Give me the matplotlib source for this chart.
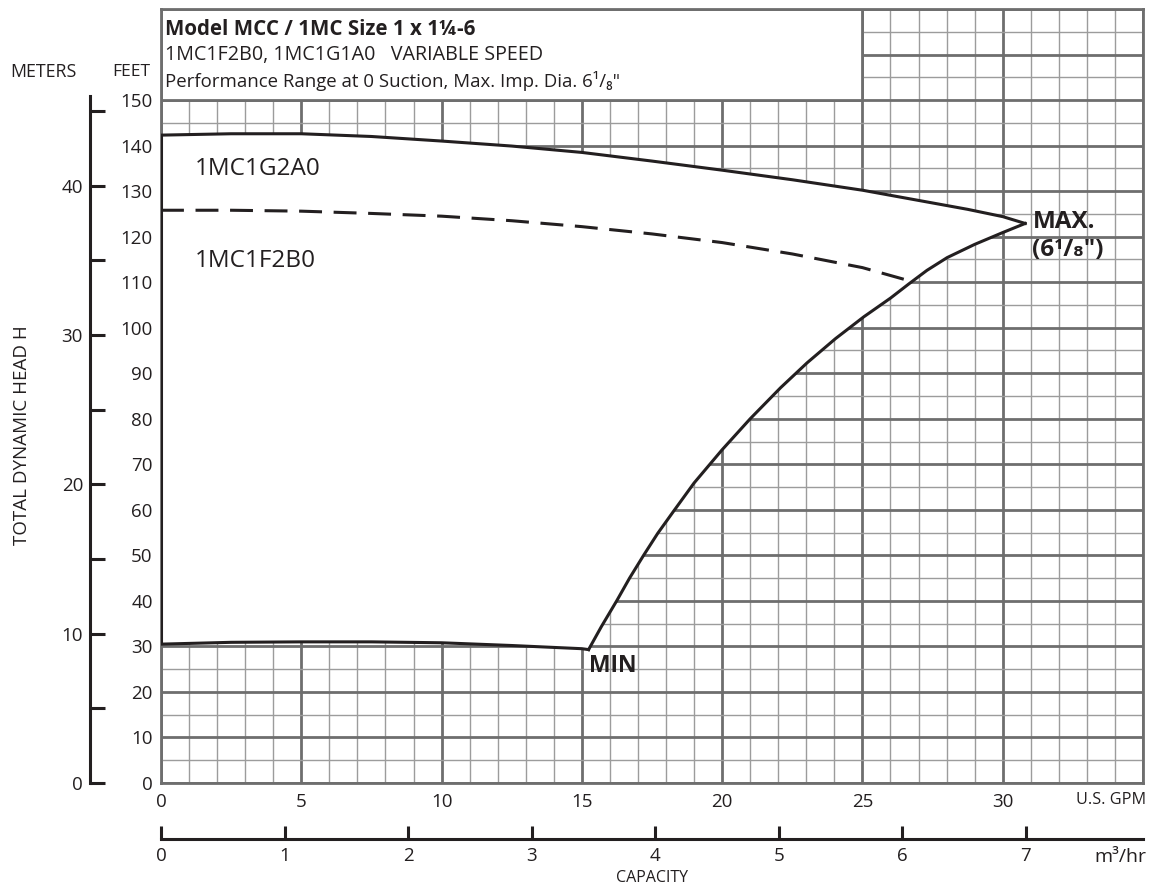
import numpy as np
import matplotlib.pyplot as plt
from matplotlib.patches import Rectangle, Polygon

plt.rcParams['font.family'] = ['Open Sans', 'DejaVu Sans']

INK = '#231f20'
GRID_MAJOR = '#6e6e6e'
GRID_MINOR = '#9c9c9c'

# curves (U.S. GPM, feet)
top_gpm = [0, 2.5, 5, 7.5, 10, 12.5, 15, 17.5, 20, 22.5, 25, 27.5, 28.75, 30, 30.8]
top_ft = [142.3, 142.6, 142.6, 142.0, 141.0, 139.9, 138.5, 136.6, 134.6, 132.5, 130.2, 127.4, 126.0, 124.4, 122.9]

dash_gpm = [0, 2.5, 5, 7.5, 10, 12.5, 15, 17.5, 20, 22.5, 25, 26.5]
dash_ft = [125.8, 125.8, 125.6, 125.1, 124.5, 123.5, 122.2, 120.6, 118.7, 116.2, 113.2, 110.6]

min_gpm = [0, 2.5, 5, 7.5, 10, 12.5, 15, 15.24]
min_ft = [30.5, 30.9, 31.0, 31.0, 30.8, 30.2, 29.5, 29.3]

rise_gpm = [15.24, 15.7, 16.25, 16.7, 17.2, 17.7, 18.27, 19.0, 20.0, 21.0, 22.08, 23.03, 24.04,
            25.05, 26.0, 26.65, 27.3, 28.02, 29.0, 30.0, 30.8]
rise_ft = [29.3, 34.4, 40.1, 45.0, 50.0, 54.8, 59.7, 65.9, 73.2, 80.0, 86.8, 92.3, 97.6,
           102.4, 106.5, 109.6, 112.6, 115.4, 118.3, 120.9, 122.9]

gpm_ticks = [0, 5, 10, 15, 20, 25, 30]
ft_ticks = [0, 10, 20, 30, 40, 50, 60, 70, 80, 90, 100, 110, 120, 130, 140, 150]
m_ticks = [0, 5, 10, 15, 20, 25, 30, 35, 40, 45]
m3h_ticks = [0, 1, 2, 3, 4, 5, 6, 7]

GPM_PER_M3H = 4.403
FT_PER_M = 3.2808

fig = plt.figure(figsize=(11.49, 8.9), dpi=100)
ax = fig.add_axes([0.14012, 0.12022, 0.85466, 0.86966])
ax.set_xlim(0, 35)
ax.set_ylim(0, 170)

# grid
ax.set_axisbelow(True)
ax.set_xticks(np.arange(0, 36, 5))
ax.set_xticks(np.arange(0, 36, 1), minor=True)
ax.set_yticks(np.arange(0, 171, 10))
ax.set_yticks(np.arange(0, 171, 5), minor=True)
ax.grid(which='major', color=GRID_MAJOR, lw=2.0)
ax.grid(which='minor', color=GRID_MINOR, lw=1.0)
ax.set_xticklabels([str(t) if t in gpm_ticks else '' for t in range(0, 36, 5)])
ax.set_yticklabels([str(t) if t in ft_ticks else '' for t in range(0, 171, 10)])
ax.tick_params(which='both', length=0, labelsize=13.5, labelcolor=INK)
ax.tick_params(axis='y', pad=6)
ax.tick_params(axis='x', pad=7)
for s in ax.spines.values():
    s.set_color(GRID_MAJOR)
    s.set_linewidth(2.0)

# title box
ax.add_patch(Rectangle((0, 150), 25, 20, facecolor='white', edgecolor=GRID_MAJOR, lw=2.0, zorder=1))
ax.text(0.14, 164.3, 'Model MCC / 1MC Size 1 x 1¼-6', fontsize=14.8, fontweight='bold', color=INK, va='baseline')
ax.text(0.14, 158.8, '1MC1F2B0, 1MC1G1A0   VARIABLE SPEED', fontsize=14.2, color=INK, va='baseline')
ax.text(0.14, 152.9, 'Performance Range at 0 Suction, Max. Imp. Dia. 6¹/₈"', fontsize=13.4, color=INK, va='baseline')

# white envelope
env_x = top_gpm + rise_gpm[::-1] + min_gpm[::-1]
env_y = top_ft + rise_ft[::-1] + min_ft[::-1]
ax.add_patch(Polygon(np.column_stack([env_x, env_y]), closed=True, facecolor='white', edgecolor='none', zorder=1))

ax.plot(top_gpm, top_ft, color=INK, lw=2.2, zorder=3)
ax.plot(rise_gpm, rise_ft, color=INK, lw=2.2, zorder=3)
ax.plot(min_gpm, min_ft, color=INK, lw=2.2, zorder=3)
ax.plot([0, 0], [min_ft[0], top_ft[0]], color=INK, lw=2.2, zorder=3, solid_capstyle='butt')
ax.plot(dash_gpm, dash_ft, color=INK, lw=2.2, ls=(0, (7.5, 3.8)), zorder=3)

ax.text(1.21, 134.9, '1MC1G2A0', fontsize=17.5, color=INK, va='center')
ax.text(1.21, 114.7, '1MC1F2B0', fontsize=17.5, color=INK, va='center')
ax.text(15.25, 25.7, 'MIN', fontsize=16.5, fontweight='bold', color=INK, va='center')
ax.text(31.08, 123.3, 'MAX.', fontsize=17.5, fontweight='bold', color=INK, va='center')
ax.text(31.04, 117.1, '(6¹/₈")', fontsize=17.5, fontweight='bold', color=INK, va='center')

# meters axis
may = ax.secondary_yaxis(-0.0723, functions=(lambda f: f / FT_PER_M, lambda m: m * FT_PER_M))
may.set_yticks(m_ticks)
may.set_yticklabels([str(t) if t % 10 == 0 else '' for t in m_ticks])
may.tick_params(direction='in', length=11, width=2.2, color=INK, labelsize=13.5, labelcolor=INK, pad=5)
may.spines['left'].set_bounds(0, 46)
may.spines['left'].set_color(INK)
may.spines['left'].set_linewidth(2.2)

# m3/hr axis
max_ = ax.secondary_xaxis(-0.0724, functions=(lambda g: g / GPM_PER_M3H, lambda q: q * GPM_PER_M3H))
max_.set_xticks(m3h_ticks)
max_.tick_params(direction='in', length=9.5, width=2.2, color=INK, labelsize=13.5, labelcolor=INK, pad=6)
max_.spines['bottom'].set_color(INK)
max_.spines['bottom'].set_linewidth(2.2)

fig.text(43 / 1149, 1 - 72 / 890, 'METERS', fontsize=12.8, color=INK, ha='center', va='center')
fig.text(131 / 1149, 1 - 72 / 890, 'FEET', fontsize=12.5, color=INK, ha='center', va='center')
fig.text(22 / 1149, 1 - 435 / 890, 'TOTAL DYNAMIC HEAD H', fontsize=13.5, color=INK, ha='center', va='center', rotation=90)
fig.text(1146 / 1149, 1 - 800 / 890, 'U.S. GPM', fontsize=11.7, color=INK, ha='right', va='center')
fig.text(1146 / 1149, 1 - 857 / 890, 'm³/hr', fontsize=14, color=INK, ha='right', va='center')
fig.text(652 / 1149, 1 - 878 / 890, 'CAPACITY', fontsize=11.5, color=INK, ha='center', va='center')

fig.savefig('out.png', dpi=100)
